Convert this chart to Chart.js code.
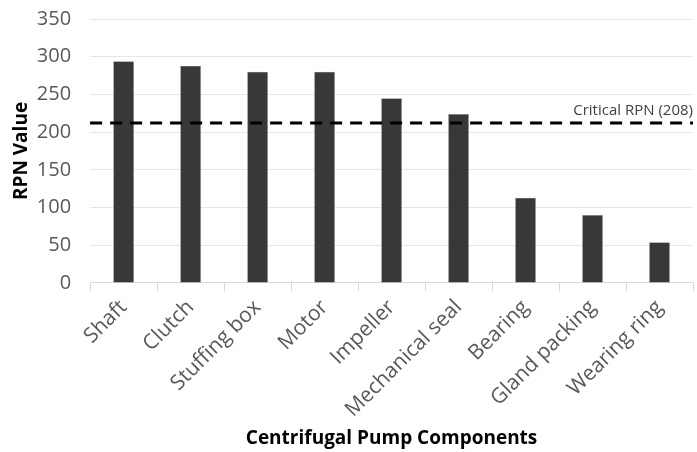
<!DOCTYPE html>
<html>
<head>
<meta charset="utf-8">
<script src="https://cdn.jsdelivr.net/npm/chart.js@4"></script>
<style>
  html, body { margin: 0; padding: 0; background: #fff; }
  #wrap { width: 697px; height: 452px; }
</style>
</head>
<body>
<div id="wrap"><canvas id="grafico"></canvas></div>
<script>
const componentes = ['Shaft', 'Clutch', 'Stuffing box', 'Motor', 'Impeller', 'Mechanical seal', 'Bearing', 'Gland packing', 'Wearing ring'];
const valoresRPN = [294, 288, 280, 280, 245, 224, 113, 90, 54];
const nivelCritico = 212;
const etiquetaCritica = 'Critical RPN (208)';

const fuente = "'Open Sans', 'Liberation Sans', sans-serif";

// linea discontinua del RPN critico
const lineaCritica = {
  id: 'lineaCritica',
  afterDatasetsDraw(chart) {
    const { ctx, chartArea, scales } = chart;
    const y = scales.y.getPixelForValue(nivelCritico);
    ctx.save();
    ctx.strokeStyle = '#000';
    ctx.lineWidth = 3;
    ctx.setLineDash([12, 8]);
    ctx.beginPath();
    ctx.moveTo(chartArea.left, y);
    ctx.lineTo(chartArea.right, y);
    ctx.stroke();
    ctx.setLineDash([]);
    ctx.fillStyle = '#404040';
    ctx.font = '15px ' + fuente;
    ctx.textAlign = 'right';
    ctx.textBaseline = 'bottom';
    ctx.fillText(etiquetaCritica, chartArea.right, y - 5);
    ctx.restore();
  }
};

new Chart(document.getElementById('grafico').getContext('2d'), {
  type: 'bar',
  data: {
    labels: componentes,
    datasets: [{
      data: valoresRPN,
      backgroundColor: '#383838',
      borderColor: '#9a9a9a',
      borderWidth: 0.5,
      barPercentage: 0.31,
      categoryPercentage: 1
    }]
  },
  options: {
    responsive: true,
    maintainAspectRatio: false,
    animation: false,
    layout: { padding: { left: 4, right: 4, top: 0, bottom: 0 } },
    plugins: {
      legend: { display: false },
      tooltip: { enabled: false }
    },
    scales: {
      x: {
        afterFit: (escala) => { escala.paddingLeft = 0; },
        grid: {
          drawOnChartArea: false,
          offset: true,
          tickLength: 8,
          color: '#d9d9d9'
        },
        border: { color: '#d9d9d9' },
        ticks: {
          minRotation: 45,
          maxRotation: 45,
          color: '#595959',
          font: { family: fuente, size: 21 },
          padding: 4
        },
        title: {
          display: true,
          text: 'Centrifugal Pump Components',
          color: '#000',
          font: { family: fuente, size: 19, weight: 'bold' },
          padding: { top: 1, bottom: 2 }
        }
      },
      y: {
        afterFit: (escala) => { escala.paddingTop = 19; },
        min: 0,
        max: 350,
        ticks: {
          stepSize: 50,
          color: '#595959',
          font: { family: fuente, size: 20 },
          padding: 2
        },
        grid: { color: '#e6e6e6', drawTicks: true, tickLength: 17, tickColor: 'rgba(0,0,0,0)' },
        border: { display: false },
        title: {
          display: true,
          text: 'RPN Value',
          color: '#000',
          font: { family: fuente, size: 19, weight: 'bold' },
          padding: { top: 6, bottom: 2 }
        }
      }
    }
  },
  plugins: [lineaCritica]
});
</script>
</body>
</html>
